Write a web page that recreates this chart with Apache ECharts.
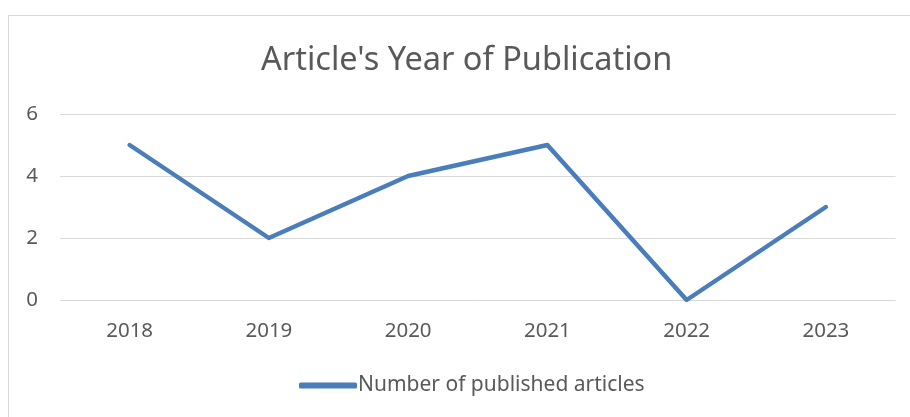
<!DOCTYPE html>
<html><head><meta charset="utf-8">
<script src="https://cdn.jsdelivr.net/npm/echarts@6/dist/echarts.min.js"></script>
<style>html,body{margin:0;padding:0;background:#fff}#c{width:910px;height:417px}</style>
</head><body><div id="c"></div>
<script>
const titleText = "Article's Year of Publication";
const categories = ['2018','2019','2020','2021','2022','2023'];
const seriesName = 'Number of published articles';
const values = [5, 2, 4, 5, 0, 3];
const yTicks = {min: 0, max: 6, interval: 2};

const chart = echarts.init(document.getElementById('c'));
chart.setOption({
  animation: false,
  textStyle: {fontFamily: 'Noto Sans'},
  graphic: [{type: 'rect', shape: {x: 8.5, y: 15.5, width: 1000, height: 600},
    style: {fill: 'none', stroke: '#d9d9d9', lineWidth: 1}, z: -1}],
  title: {text: titleText, left: 256, top: 39,
    textStyle: {fontFamily: 'Noto Sans', fontSize: 32.5, fontWeight: 'normal', color: '#595959'}},
  legend: {bottom: 16, left: 294, itemWidth: 58, itemHeight: 6, itemGap: 0,
    textStyle: {fontFamily: 'Noto Sans', fontSize: 21, color: '#595959', padding: [0,0,0,-4]},
    data: [{name: seriesName, icon: 'roundRect', itemStyle: {color: '#4a7ebb'}}]},
  grid: {left: 60, right: 14.5, top: 114, bottom: 117, containLabel: false},
  xAxis: {type: 'category', data: categories, boundaryGap: true,
    axisLine: {show: false}, axisTick: {show: false},
    axisLabel: {fontFamily: 'Noto Sans', fontSize: 20.5, color: '#595959', margin: 21}},
  yAxis: {type: 'value', min: yTicks.min, max: yTicks.max, interval: yTicks.interval,
    axisLine: {show: false}, axisTick: {show: false},
    splitLine: {lineStyle: {color: '#d9d9d9', width: 1}},
    axisLabel: {fontFamily: 'Noto Sans', fontSize: 20.5, color: '#595959', margin: 22}},
  series: [{name: seriesName, type: 'line', data: values, symbol: 'none',
    lineStyle: {color: '#4a7ebb', width: 4.5, cap: 'round', join: 'round'},
    itemStyle: {color: '#4a7ebb'}}]
});
</script></body></html>
